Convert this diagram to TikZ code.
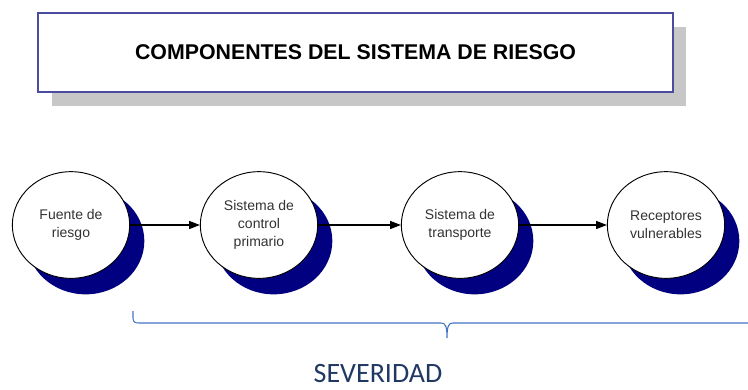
\documentclass[tikz,border=0pt]{standalone}
\usepackage{fontspec}
\setmainfont{Liberation Sans}
\newfontfamily\calibri{Carlito}
\usepackage{xcolor}
\usepackage{tikz}
\usetikzlibrary{arrows.meta,shapes.geometric,shadows}

\definecolor{navysombra}{HTML}{000080}
\definecolor{bordetitulo}{HTML}{4B4BA0}
\definecolor{llave}{HTML}{4472C4}
\definecolor{textosev}{HTML}{203864}

\begin{document}
\begin{tikzpicture}[x=0.75pt, y=-0.75pt,
    titulo/.style={draw=bordetitulo, line width=1.2pt, fill=white, minimum width=476pt, minimum height=59pt,
        font=\fontsize{16}{19}\selectfont\bfseries,
        drop shadow={shadow xshift=10pt, shadow yshift=-10.5pt, fill=black!22, opacity=1}},
    comp/.style={ellipse, draw, line width=0.7pt, fill=white, minimum width=88pt, minimum height=80pt, inner sep=0pt,
        align=center, font=\fontsize{10.5}{13.5}\selectfont, text=black!80,
        drop shadow={shadow xshift=11pt, shadow yshift=-12pt, fill=navysombra, opacity=1}},
    arrow/.style={-{Triangle[length=8pt,width=6pt]}, line width=0.8pt}
]
\useasboundingbox (0,0) rectangle (748,389);

\node[titulo] (tit) at (355.5,52.5) {COMPONENTES DEL SISTEMA DE RIESGO};

\node[comp] (fuente) at (71,225) {Fuente de\\riesgo};
\node[comp] (control) at (259,225) {Sistema de\\control\\primario};
\node[comp] (transp) at (460,225) {Sistema de\\transporte};
\node[comp] (recep) at (666,225) {Receptores\\vulnerables};

\draw[arrow] (fuente.east) -- (control.west);
\draw[arrow] (control.east) -- (transp.west);
\draw[arrow] (transp.east) -- (recep.west);

% llave de severidad
\coordinate (izq) at (133,311);
\coordinate (punta) at (447,338);
\coordinate (der) at (761,311);
\draw[llave, line width=0.8pt] (izq) -- (133,318) .. controls (133,322) and (135,323) .. (139,323)
    -- (441,323) .. controls (445,323) and (447,325) .. (punta)
    .. controls (447,325) and (449,323) .. (453,323) -- (755,323)
    .. controls (759,323) and (761,322) .. (761,318) -- (der);

\node[font=\calibri\fontsize{21}{24}\selectfont, text=textosev, inner sep=0pt, anchor=base] (sev) at (378,382) {SEVERIDAD};

\end{tikzpicture}
\end{document}
